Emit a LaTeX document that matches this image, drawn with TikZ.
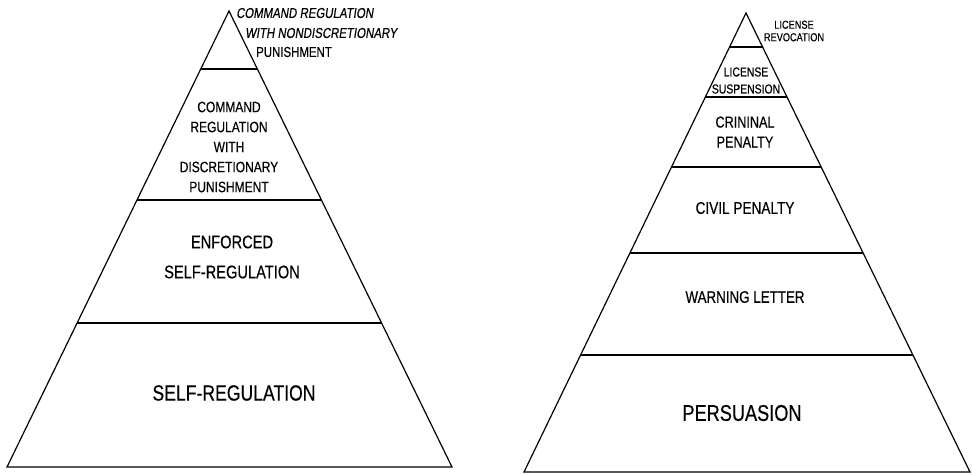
\documentclass[tikz,border=0pt]{standalone}
\usepackage{fontspec}
\setmainfont{Liberation Sans}[FakeStretch=0.8,FakeBold=0.4]
\newfontfamily\slanted{Liberation Sans}[FakeStretch=0.8,FakeBold=0.4,FakeSlant=0.15]
\usetikzlibrary{calc}
\tikzset{
  edge/.style={line width=1.2pt, black, line join=miter},
  band/.style={line width=1.1pt, black},
  lbl/.style={inner sep=0pt, align=center, text=black},
}
\newcommand{\fs}[2]{\fontsize{#1}{#2}\selectfont}
\begin{document}
\begin{tikzpicture}[x=1pt,y=-1pt]
\useasboundingbox (0,0) rectangle (972,474);
% ---------- left pyramid ----------
\coordinate (LA) at (229,11);
\coordinate (LL) at (7,467);
\coordinate (LR) at (452,467);
\draw[edge] (LL) -- (LA) -- (LR) -- cycle;
\foreach \yy in {69,200,323}{
  \draw[band] ($(LA)!{(\yy-11)/456}!(LL)$) -- ($(LA)!{(\yy-11)/456}!(LR)$);
}
\node[lbl, anchor=west, font=\slanted\fs{14.3}{16}] (l1a) at (236,13) {COMMAND REGULATION};
\node[lbl, anchor=west, font=\slanted\fs{14.3}{16}] (l1b) at (245,33) {WITH NONDISCRETIONARY};
\node[lbl, anchor=west, font=\fs{14.3}{16}] (l1c) at (256,52) {PUNISHMENT};
\node[lbl, font=\fs{15}{20}] (l2) at (229,147) {COMMAND\\REGULATION\\WITH\\DISCRETIONARY\\PUNISHMENT};
\node[lbl, font=\fs{18.3}{30}] (l3) at (232,257) {ENFORCED\\SELF-REGULATION};
\node[lbl, font=\fs{22}{26}] (l4) at (234,393) {SELF-REGULATION};
% ---------- right pyramid ----------
\coordinate (RA) at (746,13);
\coordinate (RL) at (524,472);
\coordinate (RR) at (970,472);
\draw[edge] (RL) -- (RA) -- (RR) -- cycle;
\foreach \yy in {47,97,167,253,355}{
  \draw[band] ($(RA)!{(\yy-13)/459}!(RL)$) -- ($(RA)!{(\yy-13)/459}!(RR)$);
}
\node[lbl, font=\fs{11.5}{12.5}] (r1) at (794,31) {LICENSE\\REVOCATION};
\node[lbl, font=\fs{13}{17}] (r2) at (746,80.5) {LICENSE\\SUSPENSION};
\node[lbl, font=\fs{15.8}{20}] (r3) at (745,132) {CRININAL\\PENALTY};
\node[lbl, font=\fs{17}{20}] (r4) at (745,208) {CIVIL PENALTY};
\node[lbl, font=\fs{16.7}{20}] (r5) at (745,297) {WARNING LETTER};
\node[lbl, font=\fs{22.7}{26}] (r6) at (742,413) {PERSUASION};
\end{tikzpicture}
\end{document}
